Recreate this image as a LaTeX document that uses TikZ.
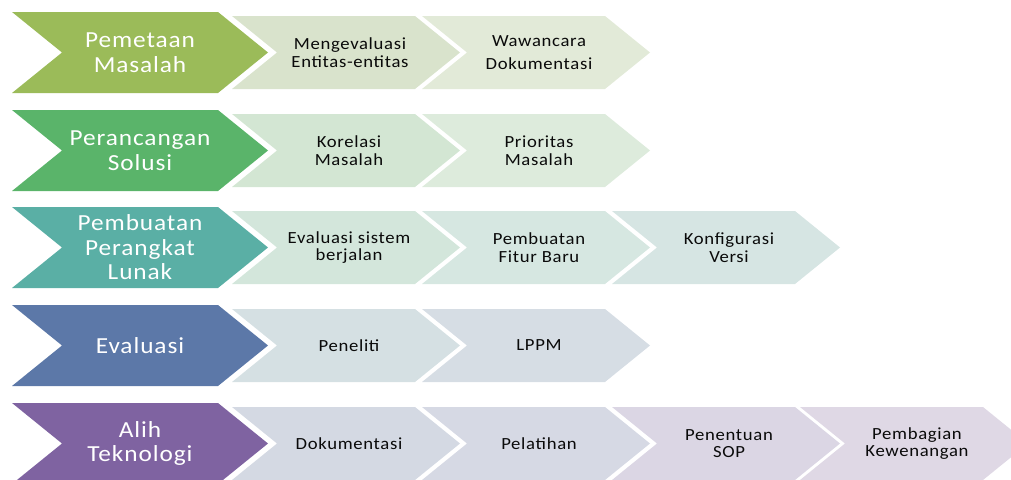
\documentclass[tikz,border=0pt]{standalone}
\usepackage{fontspec}
\setmainfont{Carlito}[FakeStretch=1.1,LetterSpace=4]
\usepackage{tikz}

\definecolor{bigA}{HTML}{9BBB59}
\definecolor{bigB}{HTML}{5AB46A}
\definecolor{bigC}{HTML}{5AAFA5}
\definecolor{bigD}{HTML}{5C78A8}
\definecolor{bigE}{HTML}{7F63A1}
\definecolor{smA1}{HTML}{D9E3CC}
\definecolor{smA2}{HTML}{E2EAD8}
\definecolor{smB1}{HTML}{D3E6D3}
\definecolor{smB2}{HTML}{DDEBDC}
\definecolor{smC1}{HTML}{D3E6DB}
\definecolor{smC2}{HTML}{D6E7E1}
\definecolor{smC3}{HTML}{D6E5E3}
\definecolor{smD1}{HTML}{D5E0E3}
\definecolor{smD2}{HTML}{D6DDE4}
\definecolor{smE1}{HTML}{D4D9E3}
\definecolor{smE2}{HTML}{D6D9E4}
\definecolor{smE3}{HTML}{DBD6E4}
\definecolor{smE4}{HTML}{DFD8E5}
\definecolor{smtext}{HTML}{0A0A0A}

\begin{document}
\begin{tikzpicture}[x=1pt, y=-1pt,
	bigtext/.style={text=white, align=center, font=\fontsize{23}{24.5}\selectfont},
	smalltext/.style={text=smtext, align=center, font=\fontsize{17}{17.5}\selectfont}]
	\useasboundingbox (0,0) rectangle (1011,479);

	% row 1
	\fill[smA1] (232,16) -- (415,16) -- (460,52.5) -- (415,89) -- (232,89) -- (277,52.5) -- cycle;
	\node[smalltext] (mengevaluasi) at (350,52.5) {Mengevaluasi\\Entitas-entitas};
	\fill[smA2] (422,16) -- (605,16) -- (650,52.5) -- (605,89) -- (422,89) -- (467,52.5) -- cycle;
	\node[smalltext] (wawancara) at (539,52.5) {Wawancara\\[5pt]Dokumentasi};
	\fill[bigA] (12,12) -- (218,12) -- (268,52.5) -- (218,93) -- (12,93) -- (62,52.5) -- cycle;
	\node[bigtext] (pemetaan) at (140,52.5) {Pemetaan\\Masalah};

	% row 2
	\fill[smB1] (232,114) -- (415,114) -- (460,150.5) -- (415,187) -- (232,187) -- (277,150.5) -- cycle;
	\node[smalltext] (korelasi) at (349,150.5) {Korelasi\\Masalah};
	\fill[smB2] (422,114) -- (605,114) -- (650,150.5) -- (605,187) -- (422,187) -- (467,150.5) -- cycle;
	\node[smalltext] (prioritas) at (539,150.5) {Prioritas\\Masalah};
	\fill[bigB] (12,110) -- (218,110) -- (268,150.5) -- (218,191) -- (12,191) -- (62,150.5) -- cycle;
	\node[bigtext] (perancangan) at (140,150.5) {Perancangan\\Solusi};

	% row 3
	\fill[smC1] (232,211) -- (415,211) -- (460,247.5) -- (415,284) -- (232,284) -- (277,247.5) -- cycle;
	\node[smalltext] (evsistem) at (349,247.5) {Evaluasi sistem\\berjalan};
	\fill[smC2] (422,211) -- (605,211) -- (650,247.5) -- (605,284) -- (422,284) -- (467,247.5) -- cycle;
	\node[smalltext] (fitur) at (539,247.5) {Pembuatan\\Fitur Baru};
	\fill[smC3] (612,211) -- (795,211) -- (840,247.5) -- (795,284) -- (612,284) -- (657,247.5) -- cycle;
	\node[smalltext] (konfigurasi) at (729,247.5) {Konfigurasi\\Versi};
	\fill[bigC] (12,207) -- (218,207) -- (268,247.5) -- (218,288) -- (12,288) -- (62,247.5) -- cycle;
	\node[bigtext] (pembuatan) at (140,247.5) {Pembuatan\\Perangkat\\Lunak};

	% row 4
	\fill[smD1] (232,309) -- (415,309) -- (460,345.5) -- (415,382) -- (232,382) -- (277,345.5) -- cycle;
	\node[smalltext] (peneliti) at (349,345.5) {Peneliti};
	\fill[smD2] (422,309) -- (605,309) -- (650,345.5) -- (605,382) -- (422,382) -- (467,345.5) -- cycle;
	\node[smalltext] (lppm) at (539,345.5) {LPPM};
	\fill[bigD] (12,305) -- (218,305) -- (268,345.5) -- (218,386) -- (12,386) -- (62,345.5) -- cycle;
	\node[bigtext] (evaluasi) at (140,345.5) {Evaluasi};

	% row 5
	\fill[smE1] (232,407) -- (415,407) -- (460,443.5) -- (415,480) -- (232,480) -- (277,443.5) -- cycle;
	\node[smalltext] (dokumentasi) at (349,443.5) {Dokumentasi};
	\fill[smE2] (422,407) -- (605,407) -- (650,443.5) -- (605,480) -- (422,480) -- (467,443.5) -- cycle;
	\node[smalltext] (pelatihan) at (539,443.5) {Pelatihan};
	\fill[smE3] (612,407) -- (795,407) -- (840,443.5) -- (795,480) -- (612,480) -- (657,443.5) -- cycle;
	\node[smalltext] (sop) at (729,443.5) {Penentuan\\SOP};
	\fill[smE4] (800,407) -- (983,407) -- (1028,443.5) -- (983,480) -- (800,480) -- (845,443.5) -- cycle;
	\node[smalltext] (kewenangan) at (917,443.5) {Pembagian\\Kewenangan};
	\fill[bigE] (12,403) -- (218,403) -- (268,443.5) -- (218,484) -- (12,484) -- (62,443.5) -- cycle;
	\node[bigtext] (alih) at (140,443.5) {Alih\\Teknologi};
\end{tikzpicture}
\end{document}
